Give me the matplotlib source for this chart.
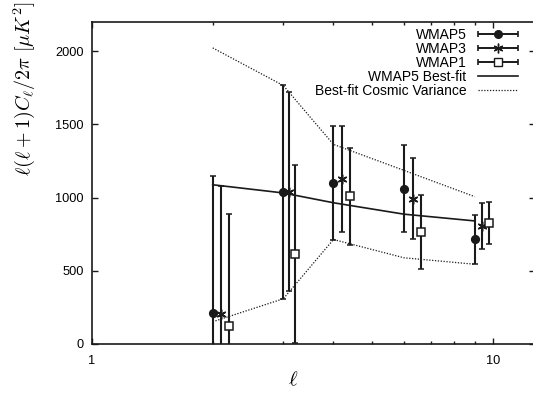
import numpy as np
import matplotlib
matplotlib.use("Agg")
import matplotlib.pyplot as plt
from matplotlib.container import ErrorbarContainer
from matplotlib.legend_handler import HandlerErrorbar
from matplotlib.ticker import FixedLocator, FixedFormatter, NullFormatter

plt.rcParams["font.family"] = ["Liberation Sans", "DejaVu Sans"]
plt.rcParams["mathtext.fontset"] = "cm"

# multipoles and band powers
ell_5 = [2.0, 3.0, 4.0, 6.0, 9.0]
cl_5 = [213, 1037, 1100, 1061, 716]
err_5 = [935, 730, 390, 297, 167]

ell_3 = [2.1, 3.1, 4.2, 6.3, 9.4]
cl_3 = [207, 1040, 1125, 994, 805]
err_3 = [874, 680, 362, 278, 155]

ell_1 = [2.2, 3.2, 4.4, 6.6, 9.8]
cl_1 = [125, 614, 1008, 764, 828]
err_1 = [761, 606, 330, 254, 143]

ell_fit = [2, 3, 4, 6, 9]
cl_fit = [1088, 1032, 965, 887, 841]
cv_upper = [2023, 1766, 1364, 1186, 1007]
cv_lower = [152, 309, 714, 589, 545]

ink = "#1a1a1a"

fig = plt.figure(figsize=(5.33, 3.93), dpi=100)
ax = fig.add_axes([92 / 533, 49 / 393, 442.6 / 533, 322 / 393])

common = dict(ls="none", color=ink, ecolor=ink, elinewidth=1.5, capsize=2.3,
              capthick=1.2, markeredgewidth=1.1)
ax.errorbar(ell_5, cl_5, yerr=err_5, marker="o", ms=5.5, **common)
ax.errorbar(ell_3, cl_3, yerr=err_3, marker=(6, 2, 0), ms=7, **common)
ax.errorbar(ell_1, cl_1, yerr=err_1, marker="s", ms=5.5, mfc="white", **common)

fit_line, = ax.plot(ell_fit, cl_fit, color=ink, lw=1.2)
cv_line, = ax.plot(ell_fit, cv_upper, color=ink, lw=0.9, ls=(0, (1, 1.3)))
ax.plot(ell_fit, cv_lower, color=ink, lw=0.9, ls=(0, (1, 1.3)))

ax.set_xscale("log")
ax.set_xlim(1, 12.7)
ax.set_ylim(0, 2200)
ax.xaxis.set_major_locator(FixedLocator([1, 10]))
ax.xaxis.set_major_formatter(FixedFormatter(["1", "10"]))
ax.xaxis.set_minor_locator(FixedLocator([2, 3, 4, 5, 6, 7, 8, 9, 20]))
ax.xaxis.set_minor_formatter(NullFormatter())
ax.set_yticks([0, 500, 1000, 1500, 2000])

ax.tick_params(which="both", direction="in", top=True, right=True,
               labelsize=9.2, width=1.0, color=ink, labelcolor="black")
ax.tick_params(which="major", length=4.0)
ax.tick_params(which="minor", length=2.2)
ax.tick_params(axis="y", pad=6)
ax.tick_params(axis="x", pad=8)
for s in ax.spines.values():
    s.set_linewidth(1.2)
    s.set_color(ink)
ax.spines["right"].set_visible(False)

ax.set_xlabel(r"$\ell$", fontsize=15)
ax.xaxis.set_label_coords(0.454, -0.08)
ax.set_ylabel(r"$\ell(\ell+1)C_\ell/2\pi\ [\mu K^2]$", fontsize=14.5)
ax.yaxis.set_label_coords(-0.125, 0.792)

# legend proxies with horizontal bars like the original sample
def proxy(marker, ms, **kw):
    return ax.errorbar([np.nan], [np.nan], xerr=[1], ls="none", marker=marker,
                       ms=ms, color=ink, ecolor=ink, elinewidth=1.4, capsize=2.3,
                       capthick=1.2, **kw)

h5 = proxy("o", 5.5)
h3 = proxy((6, 2, 0), 7)
h1 = proxy("s", 5.5, mfc="white")

ax.legend([h5, h3, h1, fit_line, cv_line],
          ["WMAP5", "WMAP3", "WMAP1", "WMAP5 Best-fit", "Best-fit Cosmic Variance"],
          loc="upper right", bbox_to_anchor=(0.9625, 0.981), frameon=False,
          markerfirst=False, fontsize=10, handlelength=2.9, handletextpad=0.8,
          labelspacing=0.0, borderaxespad=0, borderpad=0,
          handler_map={ErrorbarContainer: HandlerErrorbar(xerr_size=1.45)})

fig.savefig("out.png", dpi=100)
